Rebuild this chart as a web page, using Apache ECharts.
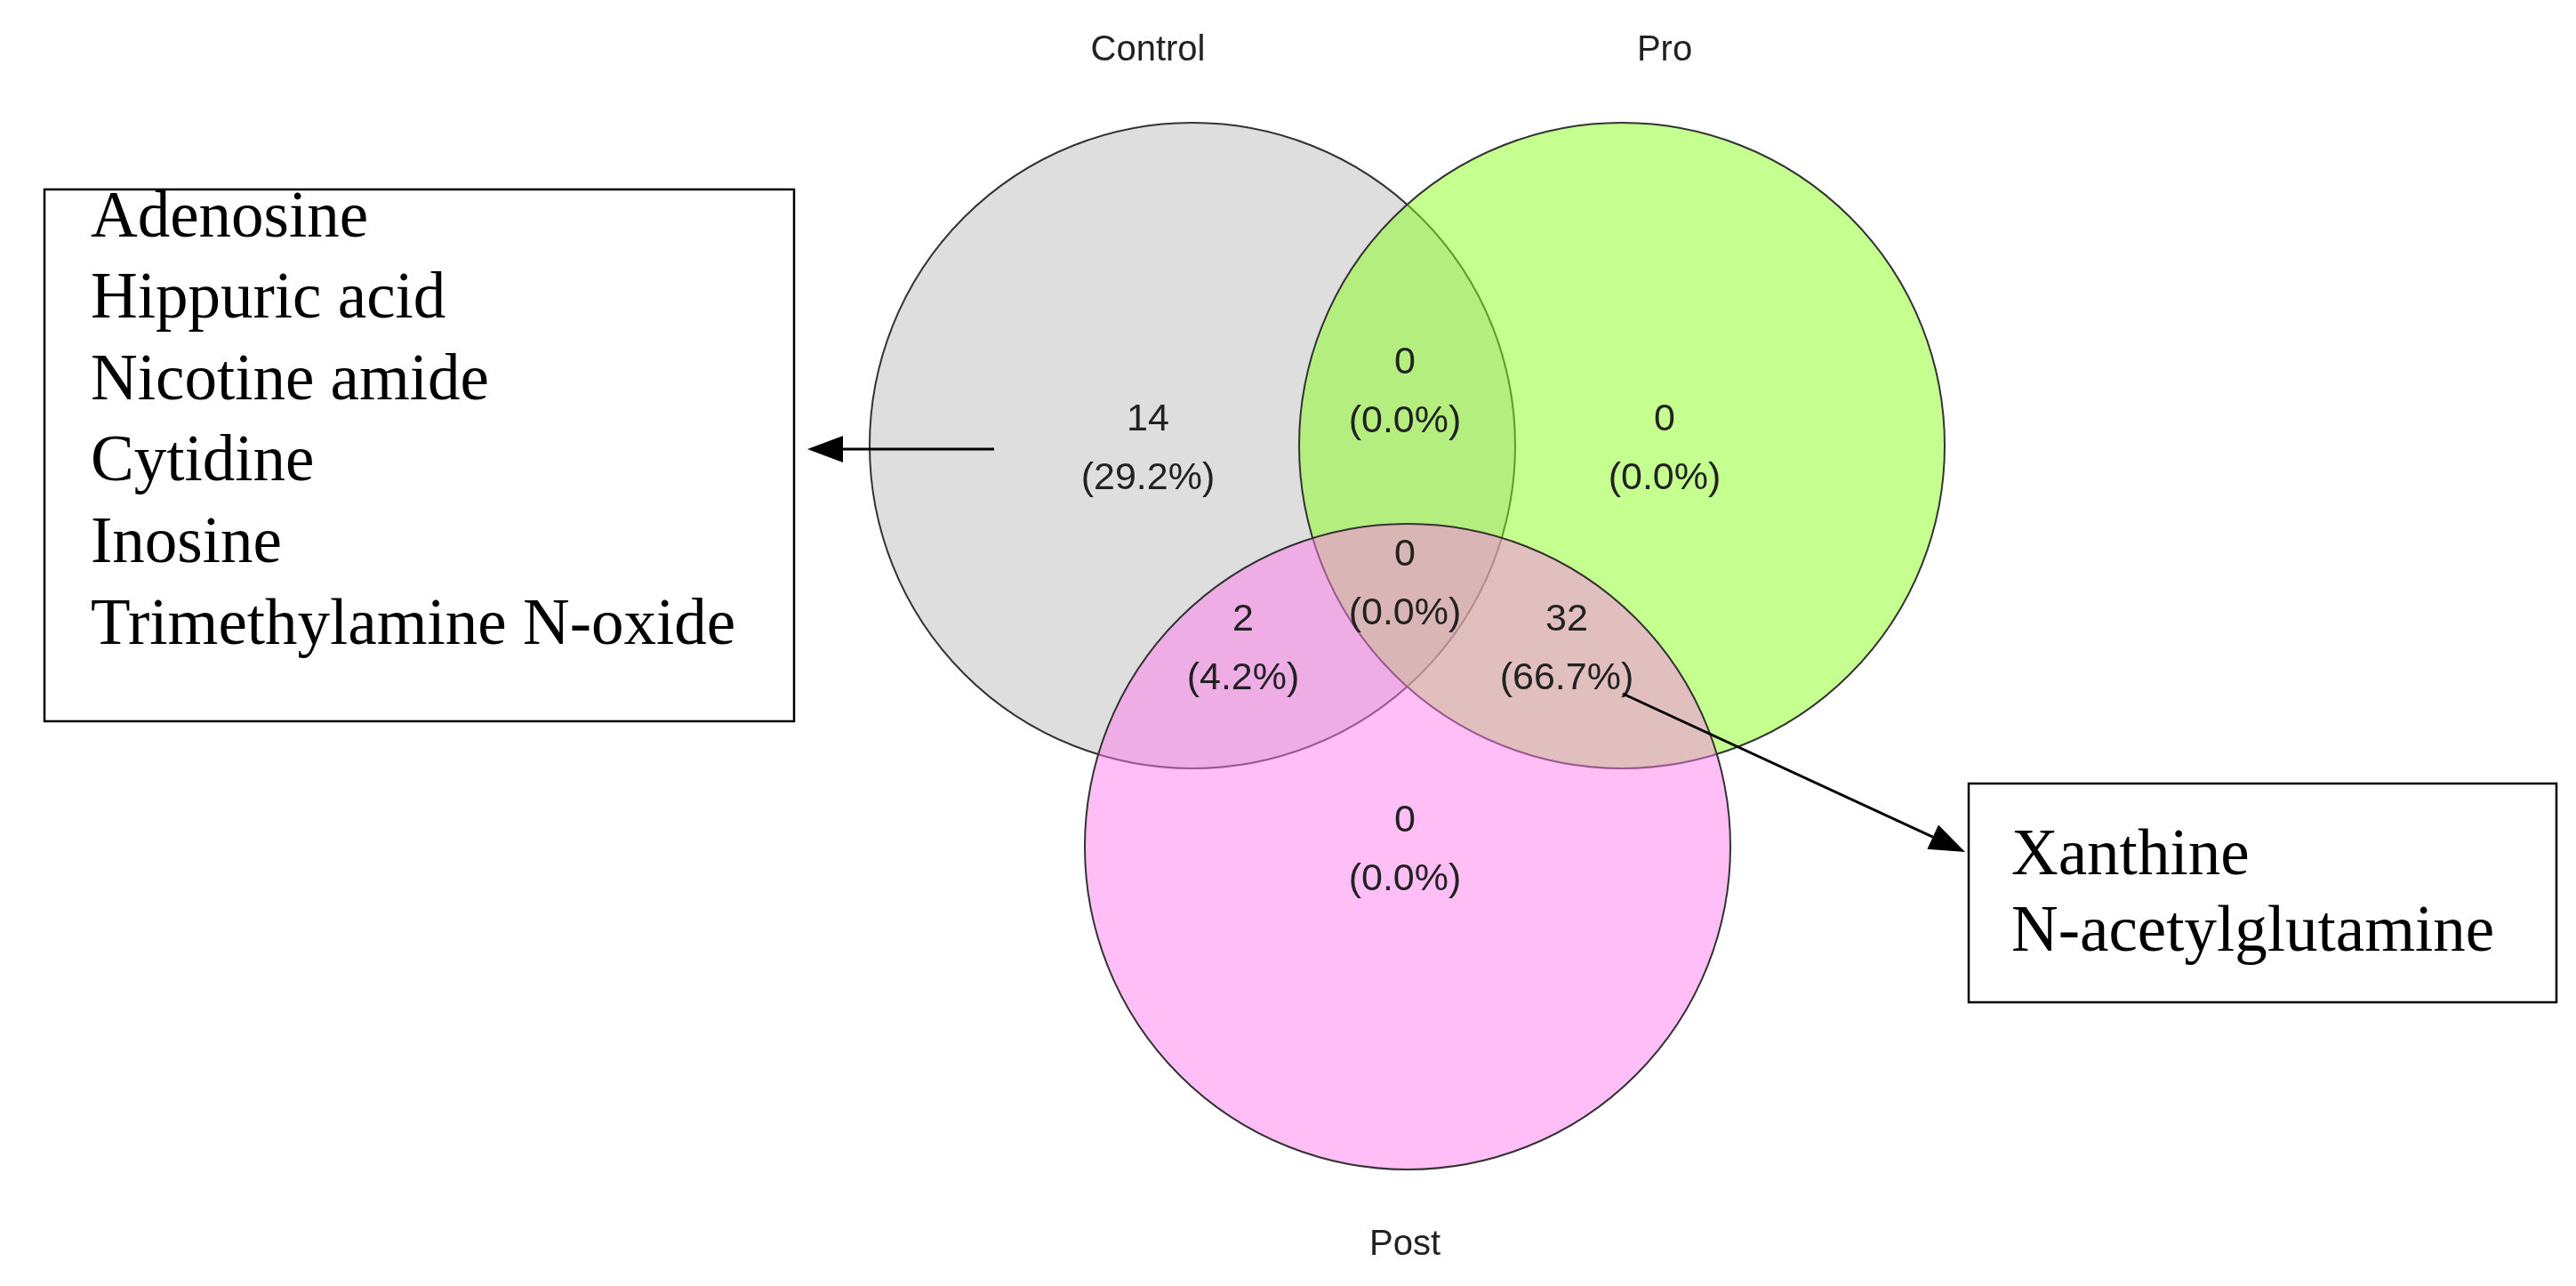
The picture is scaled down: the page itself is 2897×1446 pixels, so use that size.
<!DOCTYPE html>
<html><head><meta charset="utf-8">
<script src="https://cdn.jsdelivr.net/npm/echarts@6/dist/echarts.min.js"></script>
<style>html,body{margin:0;padding:0;background:#fff}#c{width:2897px;height:1446px}</style>
</head><body><div id="c"></div>
<script>
const setNames = ['Control', 'Pro', 'Post'];
const setCenters = [[1341, 501], [1824, 501], [1583, 952]];
const setRadius = [363, 363, 363];
const setColors = ['rgba(190,190,190,0.5)', 'rgba(137,255,32,0.5)', 'rgba(255,127,238,0.5)'];
const setLabelPos = [[1291, 57], [1872, 57], [1580, 1400]];
const regionCounts = [14, 0, 0, 0, 2, 0, 32, 0];
const regionPcts = ['29.2%', '0.0%', '0.0%', '0.0%', '4.2%', '0.0%', '66.7%', '0.0%'];
const regionPos = [[1291, 505], [1580, 441], [1872, 505], [1580, 657], [1398, 730], [1580, 657], [1762, 730], [1580, 956]];
const leftNames = ['Adenosine', 'Hippuric acid', 'Nicotine amide', 'Cytidine', 'Inosine', 'Trimethylamine N-oxide'];
const rightNames = ['Xanthine', 'N-acetylglutamine'];

// skip duplicate position index 5 (same as 3)
const regionIdx = [0,1,2,3,4,6,7];

const chart = echarts.init(document.getElementById('c'));
const serif = '"Liberation Serif", "Times New Roman", serif';
const sans = '"Liberation Sans", Arial, sans-serif';

const graphics = [];
graphics.push({type:'rect', shape:{x:50,y:213,width:843,height:598}, style:{fill:'#fff',stroke:'#000',lineWidth:2.5}});
leftNames.forEach((n,i)=>graphics.push({type:'text', x:102, y:283+i*91.6, style:{text:n, font:'73px '+serif, fill:'#000', verticalAlign:'bottom'}}));
graphics.push({type:'rect', shape:{x:2214,y:881,width:661,height:246}, style:{fill:'#fff',stroke:'#000',lineWidth:2.5}});
rightNames.forEach((n,i)=>graphics.push({type:'text', x:2262, y:1000+i*86, style:{text:n, font:'73px '+serif, fill:'#000', verticalAlign:'bottom'}}));
// arrows
graphics.push({type:'line', shape:{x1:1118,y1:505,x2:940,y2:505}, style:{stroke:'#000',lineWidth:3}, z:10});
graphics.push({type:'polygon', shape:{points:[[908,505],[948,490],[948,520]]}, style:{fill:'#000'}, z:10});
const ax1=1825, ay1=780, ax2=2210, ay2=958;
const ang=Math.atan2(ay2-ay1, ax2-ax1), L=40, W=15;
const bx=ax2-L*Math.cos(ang), by=ay2-L*Math.sin(ang);
graphics.push({type:'line', shape:{x1:ax1,y1:ay1,x2:bx,y2:by}, style:{stroke:'#000',lineWidth:3}, z:10});
graphics.push({type:'polygon', shape:{points:[[ax2,ay2],[bx+W*Math.sin(ang),by-W*Math.cos(ang)],[bx-W*Math.sin(ang),by+W*Math.cos(ang)]]}, style:{fill:'#000'}, z:10});

chart.setOption({
  animation:false,
  grid:{left:0,right:0,top:0,bottom:0},
  xAxis:{type:'value',min:0,max:2897,show:false},
  yAxis:{type:'value',min:0,max:1446,inverse:true,show:false},
  graphic: graphics,
  series:[
    {type:'custom', data:setNames.map((n,i)=>[setCenters[i][0],setCenters[i][1],setRadius[i],i]),
     renderItem:(p,api)=>{
       const c=api.coord([api.value(0),api.value(1)]);
       const r=api.size([api.value(2),api.value(2)])[0];
       return {type:'circle', shape:{cx:c[0],cy:c[1],r:r}, style:{fill:setColors[api.value(3)],stroke:'#333',lineWidth:2}};
     }, z:2},
    {type:'custom', data:setNames.map((n,i)=>[setLabelPos[i][0],setLabelPos[i][1],i]),
     renderItem:(p,api)=>{
       const c=api.coord([api.value(0),api.value(1)]);
       return {type:'text', x:c[0], y:c[1], style:{text:setNames[api.value(2)], font:'40px '+sans, fill:'#222', align:'center', verticalAlign:'middle'}};
     }, z:3},
    {type:'custom', data:regionIdx.map(i=>[regionPos[i][0],regionPos[i][1],i]),
     renderItem:(p,api)=>{
       const c=api.coord([api.value(0),api.value(1)]);
       const i=api.value(2);
       return {type:'text', x:c[0], y:c[1], style:{text:regionCounts[i]+'\n('+regionPcts[i]+')', font:'43px '+sans, lineHeight:66, fill:'#222', align:'center', verticalAlign:'middle'}};
     }, z:4}
  ]
});
</script></body></html>
